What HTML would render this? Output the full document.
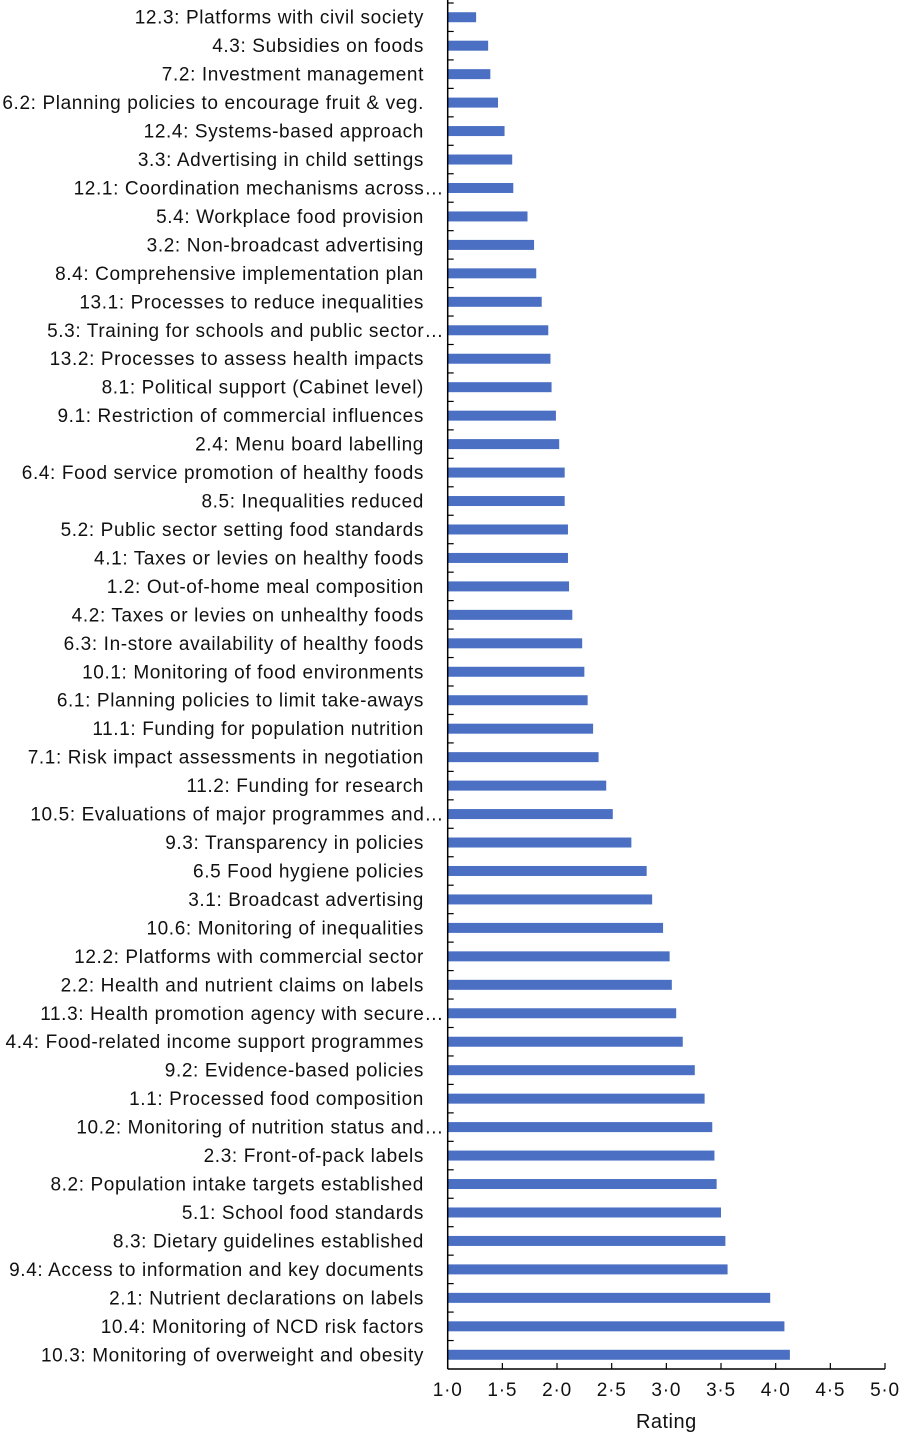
<!DOCTYPE html>
<html><head><meta charset="utf-8"><style>
html,body{margin:0;padding:0;background:#fff;}
svg{display:block;font-family:"Liberation Sans",Arial,sans-serif;}
</style></head><body>
<svg id="chart" width="900" height="1433" viewBox="0 0 900 1433">
<g id="labels"></g>
<g id="bars"></g>
<g id="axes"></g>
</svg>
<script>
const categories = ["12.3: Platforms with civil society","4.3: Subsidies on foods","7.2: Investment management","6.2: Planning policies to encourage fruit & veg.","12.4: Systems-based approach","3.3: Advertising in child settings","12.1: Coordination mechanisms across…","5.4: Workplace food provision","3.2: Non-broadcast advertising","8.4: Comprehensive implementation plan","13.1: Processes to reduce inequalities","5.3: Training for schools and public sector…","13.2: Processes to assess health impacts","8.1: Political support (Cabinet level)","9.1: Restriction of commercial influences","2.4: Menu board labelling","6.4: Food service promotion of healthy foods","8.5: Inequalities reduced","5.2: Public sector setting food standards","4.1: Taxes or levies on healthy foods","1.2: Out-of-home meal composition","4.2: Taxes or levies on unhealthy foods","6.3: In-store availability of healthy foods","10.1: Monitoring of food environments","6.1: Planning policies to limit take-aways","11.1: Funding for population nutrition","7.1: Risk impact assessments in negotiation","11.2: Funding for research","10.5: Evaluations of major programmes and…","9.3: Transparency in policies","6.5 Food hygiene policies","3.1: Broadcast advertising","10.6: Monitoring of inequalities","12.2: Platforms with commercial sector","2.2: Health and nutrient claims on labels","11.3: Health promotion agency with secure…","4.4: Food-related income support programmes","9.2: Evidence-based policies","1.1: Processed food composition","10.2: Monitoring of nutrition status and…","2.3: Front-of-pack labels","8.2: Population intake targets established","5.1: School food standards","8.3: Dietary guidelines established","9.4: Access to information and key documents","2.1:  Nutrient declarations on labels","10.4: Monitoring of NCD risk factors","10.3: Monitoring of overweight and obesity"];
const ratings = [1.26,1.37,1.39,1.46,1.52,1.59,1.60,1.73,1.79,1.81,1.86,1.92,1.94,1.95,1.99,2.02,2.07,2.07,2.10,2.10,2.11,2.14,2.23,2.25,2.28,2.33,2.38,2.45,2.51,2.68,2.82,2.87,2.97,3.03,3.05,3.09,3.15,3.26,3.35,3.42,3.44,3.46,3.50,3.54,3.56,3.95,4.08,4.13];
const tickValues = [1.0,1.5,2.0,2.5,3.0,3.5,4.0,4.5,5.0];
const tickLabels = ["1·0","1·5","2·0","2·5","3·0","3·5","4·0","4·5","5·0"];

const NS="http://www.w3.org/2000/svg";
const X0=447.7, X1=885, VMIN=1, VMAX=5, YTOP=3, YBOT=1369;
const xs=v=>X0+(v-VMIN)/(VMAX-VMIN)*(X1-X0);
const band=(YBOT-YTOP)/categories.length;
const yc=i=>YTOP+band*(i+0.5);
function mk(tag,attrs,parent){const e=document.createElementNS(NS,tag);for(const k in attrs)e.setAttribute(k,attrs[k]);parent.appendChild(e);return e;}
const gL=document.getElementById('labels'),gB=document.getElementById('bars'),gA=document.getElementById('axes');
categories.forEach((c,i)=>{
  const trunc=c.endsWith('…');
  const t=mk('text',{x:trunc?444:424,y:yc(i)+6.5,'text-anchor':'end','font-size':19,'letter-spacing':0.62,fill:'#111'},gL);
  t.textContent=c;
  
  
  const r=mk('rect',{x:X0,y:yc(i)-5,width:xs(ratings[i])-X0,height:10,fill:'#4a6fc3'},gB);
  
  
});
const ya=mk('line',{x1:X0,y1:0,x2:X0,y2:YBOT,stroke:'#000','stroke-width':1.5},gA);


for(let i=0;i<=categories.length-1;i++){
  const y=YTOP+band*i;
  const tk=mk('line',{x1:X0,y1:y,x2:X0+6,y2:y,stroke:'#000','stroke-width':1.2},gA);
  
  
}
const xa=mk('line',{x1:X0,y1:YBOT,x2:X1,y2:YBOT,stroke:'#000','stroke-width':1.5},gA);


tickValues.forEach((v,i)=>{
  const tk=mk('line',{x1:xs(v),y1:YBOT,x2:xs(v),y2:YBOT-6,stroke:'#000','stroke-width':1.2},gA);
  
  
  const t=mk('text',{x:xs(v),y:YBOT+27,'text-anchor':'middle','font-size':19,'letter-spacing':0.8,fill:'#111'},gA);
  t.textContent=tickLabels[i];
  
  
});
const xt=mk('text',{x:(X0+X1)/2,y:1428,'text-anchor':'middle','font-size':20,'letter-spacing':0.5,fill:'#111'},gA);
xt.textContent='Rating';


</script>
</body></html>
